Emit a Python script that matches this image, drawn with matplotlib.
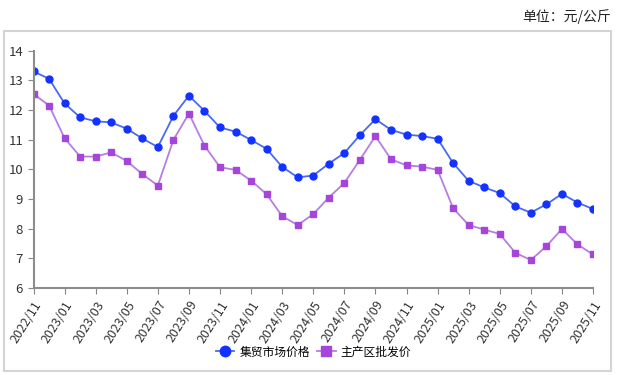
import matplotlib
matplotlib.use("Agg")
import matplotlib.pyplot as plt
from matplotlib.patches import Rectangle

plt.rcParams['font.family'] = ['Noto Sans CJK SC', 'DejaVu Sans']

months = [f"{y}/{m:02d}" for y, m in
          [(2022, 11), (2022, 12)] + [(2023, i) for i in range(1, 13)]
          + [(2024, i) for i in range(1, 13)] + [(2025, i) for i in range(1, 12)]]

market_price = [13.30, 13.05, 12.22, 11.75, 11.62, 11.58, 11.37, 11.04, 10.75,
                11.80, 12.48, 11.97, 11.41, 11.27, 10.99, 10.69, 10.08, 9.73,
                9.79, 10.19, 10.55, 11.15, 11.69, 11.33, 11.17, 11.12, 11.03,
                10.21, 9.61, 9.39, 9.20, 8.75, 8.54, 8.82, 9.17, 8.88, 8.66]
wholesale_price = [12.54, 12.15, 11.05, 10.43, 10.43, 10.57, 10.28, 9.84, 9.45,
                   10.99, 11.88, 10.80, 10.07, 9.98, 9.62, 9.16, 8.42, 8.12,
                   8.49, 9.05, 9.54, 10.32, 11.12, 10.34, 10.13, 10.09, 9.98,
                   8.69, 8.12, 7.97, 7.82, 7.19, 6.94, 7.41, 7.99, 7.47, 7.13]

fig = plt.figure(figsize=(6.17, 3.75), dpi=100)
ax = fig.add_axes([0.0543, 0.232, 0.9068, 0.633])

x = range(len(months))
ax.plot(x, market_price, color="#4a6af0", lw=1.3, marker="o", ms=5,
        markerfacecolor="#1432ff", markeredgecolor="#1432ff", label="集贸市场价格")
ax.plot(x, wholesale_price, color="#b77ee0", lw=1.3, marker="s", ms=4.5,
        markerfacecolor="#a545dc", markeredgecolor="#a545dc", label="主产区批发价")

ax.set_xlim(0, len(months) - 1)
ax.set_ylim(6, 14)
ax.set_yticks(range(6, 15))
ax.set_xticks(list(x)[::2])
ax.set_xticklabels(months[::2], rotation=58, ha="right", rotation_mode="anchor",
                   fontsize=9, color="#333333")
ax.tick_params(axis="y", labelsize=9.5, colors="#333333", length=4, color="#888888")
ax.tick_params(axis="x", length=4, color="#888888")
for s in ["top", "right"]:
    ax.spines[s].set_visible(False)
for s in ["left", "bottom"]:
    ax.spines[s].set_color("#8c8c8c")
    ax.spines[s].set_linewidth(1.5)

ax.legend(loc="center", bbox_to_anchor=(0.5, -0.27), ncol=2, frameon=False,
          fontsize=8.5, handlelength=1.6, columnspacing=0.6, handletextpad=0.4,
          markerscale=1.5)

fig.patches.append(Rectangle((3.5 / 617, 1 - 371 / 375), 607.5 / 617, 340.3 / 375,
                             transform=fig.transFigure, fill=False,
                             edgecolor="#d4d4d4", lw=1.5))
fig.text(0.99, 0.955, "单位：元/公斤", ha="right", va="center", fontsize=10,
         color="#222222")

fig.savefig("out.png", dpi=100)
